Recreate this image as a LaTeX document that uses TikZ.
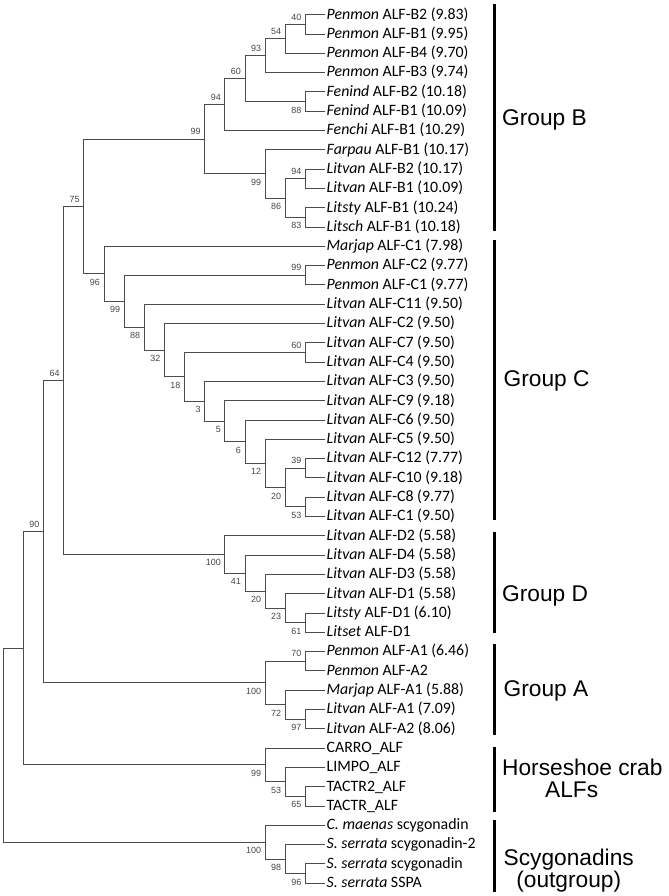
\documentclass[tikz,border=0pt]{standalone}
\usepackage{fontspec}
\setmainfont{Carlito}
\newfontfamily\grpfont{Liberation Sans}
\usetikzlibrary{calc}
\tikzset{
    branch/.style={draw=black!70, line width=1bp},
    leaf/.style={anchor=west, inner sep=1.5bp, text height=11bp, text depth=2.4bp, font=\fontsize{15.9}{17}\selectfont},
    boot/.style={font=\grpfont\fontsize{9}{10}\selectfont, text=black!72, inner sep=1bp},
    bsup/.style={anchor=south east, xshift=-3bp, yshift=3bp},
    bsdown/.style={anchor=north east, xshift=-3bp, yshift=-4bp},
    grpbar/.style={line width=3.5bp},
    grplabel/.style={font=\grpfont\fontsize{22.8}{22}\selectfont\setlength\lineskiplimit{-20pt}, anchor=base west, inner sep=0pt}
}
\begin{document}
\begin{tikzpicture}[x=1bp,y=-1bp]
\useasboundingbox (0,0) rectangle (669,896);
\def\xo{3.3}     % x of the root
\def\dx{20.15}   % step of one tree level
\def\yo{14.7}    % y of the first leaf
\def\dy{19.3}    % step between leaves
% name, level, upper child, lower child, support, side of support
\def\clade#1#2#3#4#5#6{%
\path let \p1=(#3), \p2=(#4) in ({(\xo+#2*\dx)*1bp},{0.5*(\y1+\y2)}) coordinate (#1);
\draw[branch] (#1) |- (#3) (#1) |- (#4);
\ifx\relax#5\relax\else\node[boot,#6] (#1-bs) at (#1) {#5};\fi
}
% leaves
\foreach \txt [count=\i] in {%
{\textit{Penmon} ALF-B2 (9.83)}, {\textit{Penmon} ALF-B1 (9.95)},
{\textit{Penmon} ALF-B4 (9.70)}, {\textit{Penmon} ALF-B3 (9.74)},
{\textit{Fenind} ALF-B2 (10.18)}, {\textit{Fenind} ALF-B1 (10.09)},
{\textit{Fenchi} ALF-B1 (10.29)}, {\textit{Farpau} ALF-B1 (10.17)},
{\textit{Litvan} ALF-B2 (10.17)}, {\textit{Litvan} ALF-B1 (10.09)},
{\textit{Litsty} ALF-B1 (10.24)}, {\textit{Litsch} ALF-B1 (10.18)},
{\textit{Marjap} ALF-C1 (7.98)}, {\textit{Penmon} ALF-C2 (9.77)},
{\textit{Penmon} ALF-C1 (9.77)}, {\textit{Litvan} ALF-C11 (9.50)},
{\textit{Litvan} ALF-C2 (9.50)}, {\textit{Litvan} ALF-C7 (9.50)},
{\textit{Litvan} ALF-C4 (9.50)}, {\textit{Litvan} ALF-C3 (9.50)},
{\textit{Litvan} ALF-C9 (9.18)}, {\textit{Litvan} ALF-C6 (9.50)},
{\textit{Litvan} ALF-C5 (9.50)}, {\textit{Litvan} ALF-C12 (7.77)},
{\textit{Litvan} ALF-C10 (9.18)}, {\textit{Litvan} ALF-C8 (9.77)},
{\textit{Litvan} ALF-C1 (9.50)}, {\textit{Litvan} ALF-D2 (5.58)},
{\textit{Litvan} ALF-D4 (5.58)}, {\textit{Litvan} ALF-D3 (5.58)},
{\textit{Litvan} ALF-D1 (5.58)}, {\textit{Litsty} ALF-D1 (6.10)},
{\textit{Litset} ALF-D1}, {\textit{Penmon} ALF-A1 (6.46)},
{\textit{Penmon} ALF-A2}, {\textit{Marjap} ALF-A1 (5.88)},
{\textit{Litvan} ALF-A1 (7.09)}, {\textit{Litvan} ALF-A2 (8.06)},
{CARRO\_ALF}, {LIMPO\_ALF}, {TACTR2\_ALF}, {TACTR\_ALF},
{\textit{C. maenas} scygonadin}, {\textit{S. serrata} scygonadin-2},
{\textit{S. serrata} scygonadin}, {\textit{S. serrata} SSPA}} {%
\node[leaf] (l\i) at (325,{\yo+(\i-1)*\dy}) {\txt};
};
% group B
\clade{b40}{15}{l1}{l2}{40}{bsup}
\clade{b54}{14}{b40}{l3}{54}{bsup}
\clade{b93}{13}{b54}{l4}{93}{bsup}
\clade{b88}{15}{l5}{l6}{88}{bsdown}
\clade{b60}{12}{b93}{b88}{60}{bsup}
\clade{b94}{11}{b60}{l7}{94}{bsup}
\clade{b94x}{15}{l9}{l10}{94}{bsup}
\clade{b83}{15}{l11}{l12}{83}{bsdown}
\clade{b86}{14}{b94x}{b83}{86}{bsdown}
\clade{b99x}{13}{l8}{b86}{99}{bsdown}
\clade{b99}{10}{b94}{b99x}{99}{bsup}
% group C
\clade{c99x}{15}{l14}{l15}{99}{bsup}
\clade{c60}{15}{l18}{l19}{60}{bsup}
\clade{c39}{15}{l24}{l25}{39}{bsup}
\clade{c53}{15}{l26}{l27}{53}{bsdown}
\clade{c20}{14}{c39}{c53}{20}{bsdown}
\clade{c12}{13}{l23}{c20}{12}{bsdown}
\clade{c6}{12}{l22}{c12}{6}{bsdown}
\clade{c5}{11}{l21}{c6}{5}{bsdown}
\clade{c3}{10}{l20}{c5}{3}{bsdown}
\clade{c18}{9}{c60}{c3}{18}{bsdown}
\clade{c32}{8}{l17}{c18}{32}{bsdown}
\clade{c88}{7}{l16}{c32}{88}{bsdown}
\clade{c99}{6}{c99x}{c88}{99}{bsdown}
\clade{c96}{5}{l13}{c99}{96}{bsdown}
\clade{n75}{4}{b99}{c96}{75}{bsup}
% group D
\clade{d61}{15}{l32}{l33}{61}{bsdown}
\clade{d23}{14}{l31}{d61}{23}{bsdown}
\clade{d20}{13}{l30}{d23}{20}{bsdown}
\clade{d41}{12}{l29}{d20}{41}{bsdown}
\clade{d100}{11}{l28}{d41}{100}{bsdown}
\clade{n64}{3}{n75}{d100}{64}{bsup}
% group A
\clade{a70}{15}{l34}{l35}{70}{bsup}
\clade{a97}{15}{l37}{l38}{97}{bsdown}
\clade{a72}{14}{l36}{a97}{72}{bsdown}
\clade{a100}{13}{a70}{a72}{100}{bsdown}
\clade{n90}{2}{n64}{a100}{90}{bsup}
% horseshoe crab
\clade{h65}{15}{l41}{l42}{65}{bsdown}
\clade{h53}{14}{l40}{h65}{53}{bsdown}
\clade{h99}{13}{l39}{h53}{99}{bsdown}
\clade{n1}{1}{n90}{h99}{}{}
% scygonadins
\clade{s96}{15}{l45}{l46}{96}{bsdown}
\clade{s98}{14}{l44}{s96}{98}{bsdown}
\clade{s100}{13}{l43}{s98}{100}{bsdown}
\clade{root}{0}{n1}{s100}{}{}
% groups
\draw[grpbar] (494.3,4) -- (494.3,231);
\draw[grpbar] (494.3,240) -- (494.3,520);
\draw[grpbar] (494.3,531.7) -- (494.3,633.3);
\draw[grpbar] (494.3,644) -- (494.3,735);
\draw[grpbar] (494.3,746.7) -- (494.3,812);
\draw[grpbar] (494.3,820) -- (494.3,891.7);
\node[grplabel] (gB) at (502,125) {Group B};
\node[grplabel] (gC) at (503.5,386.7) {Group C};
\node[grplabel] (gD) at (502,601.7) {Group D};
\node[grplabel] (gA) at (503.5,696.7) {Group A};
\node[grplabel, align=left, anchor=north west] (gH) at (502,759.3) {Horseshoe crab\\\hspace{43bp}ALFs};
\node[grplabel, align=center, anchor=north west] (gS) at (503.5,848.8) {Scygonadins\\(outgroup)};
\end{tikzpicture}
\end{document}
